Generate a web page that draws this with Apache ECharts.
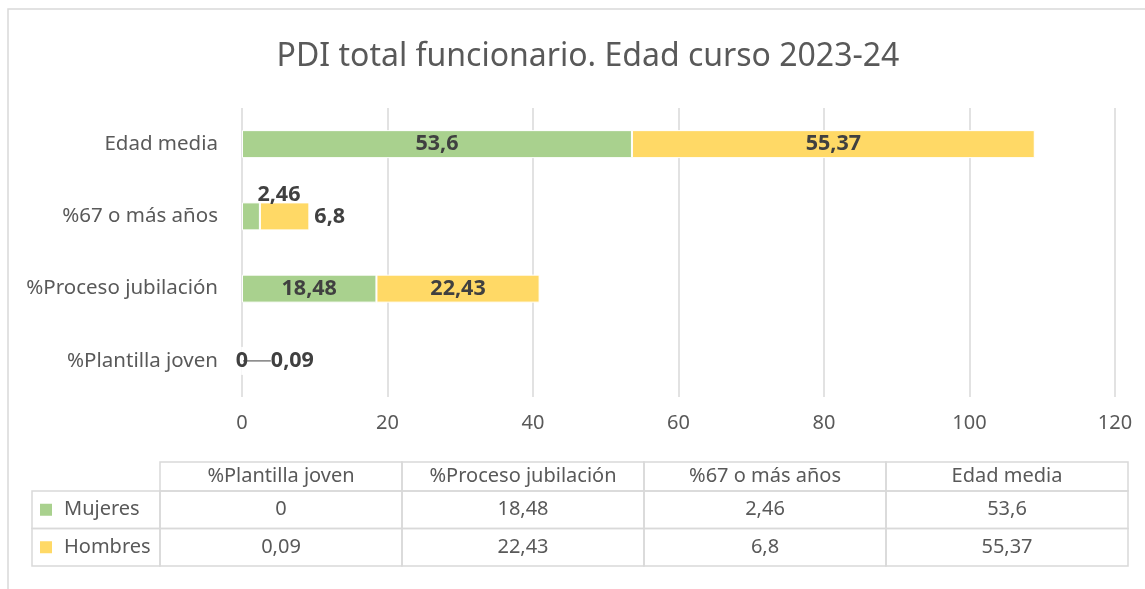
<!DOCTYPE html>
<html><head><meta charset="utf-8">
<script src="https://cdn.jsdelivr.net/npm/echarts@6/dist/echarts.min.js"></script>
<style>html,body{margin:0;padding:0;background:#fff}#c{width:1145px;height:589px}</style>
</head><body><div id="c"></div>
<script>
const categories = ['%Plantilla joven', '%Proceso jubilación', '%67 o más años', 'Edad media'];
const mujeres = [0, 18.48, 2.46, 53.6];
const hombres = [0.09, 22.43, 6.8, 55.37];
const xTicks = [0, 20, 40, 60, 80, 100, 120];
const seriesNames = ['Mujeres', 'Hombres'];
const colors = ['#A9D18E', '#FFD966'];
const fmt = v => String(v).replace('.', ',');

// label placement per category (style only)
const mujLabel = [
  {position: 'inside'},
  {position: 'inside'},
  {position: 'top', distance: -3, offset: [28, 0]},
  {position: 'inside'}
];
const homLabel = [
  {position: 'right', distance: 4},
  {position: 'inside'},
  {position: 'right', distance: 5},
  {position: 'inside'}
];
const homLine = [true, false, false, false];

const FONT = 'Noto Sans';
const labelBase = {show: true, fontFamily: FONT, fontSize: 21.5, fontWeight: 'bold', color: '#404040', formatter: p => fmt(p.value)};

function makeData(vals, lbls, lines) {
  return vals.map((v, i) => {
    const d = {value: v, label: Object.assign({}, labelBase, lbls[i])};
    if (lines) d.labelLine = {show: lines[i], lineStyle: {color: '#7f7f7f', width: 1.5}};
    return d;
  });
}

// table graphic built from the arrays
const tblLeft = 32, rowHeadW = 128, colW = 242, tTop = 462, hH = 29, rH = 37.5;
const border = '#d9d9d9', txt = '#595959';
const TFS = 20;
const g = [];
g.push({type: 'rect', shape: {x: 8, y: 9, width: 1160, height: 600}, style: {fill: 'none', stroke: border, lineWidth: 1.5}, silent: true});
categories.forEach((c, i) => {
  const x0 = tblLeft + rowHeadW + i * colW;
  g.push({type: 'rect', shape: {x: x0, y: tTop, width: colW, height: hH}, style: {fill: 'none', stroke: border, lineWidth: 1.5}});
  g.push({type: 'text', x: x0 + colW / 2, y: tTop + hH / 2, style: {text: c, fontFamily: FONT, fontSize: TFS, fill: txt, align: 'center', verticalAlign: 'middle'}});
});
[mujeres, hombres].forEach((arr, r) => {
  const y0 = tTop + hH + r * rH;
  g.push({type: 'rect', shape: {x: tblLeft, y: y0, width: rowHeadW, height: rH}, style: {fill: 'none', stroke: border, lineWidth: 1.5}});
  g.push({type: 'rect', shape: {x: tblLeft + 8, y: y0 + rH / 2 - 6, width: 12, height: 12}, style: {fill: colors[r]}});
  g.push({type: 'text', x: tblLeft + 32, y: y0 + rH / 2, style: {text: seriesNames[r], fontFamily: FONT, fontSize: TFS, fill: txt, align: 'left', verticalAlign: 'middle'}});
  arr.forEach((v, i) => {
    const x0 = tblLeft + rowHeadW + i * colW;
    g.push({type: 'rect', shape: {x: x0, y: y0, width: colW, height: rH}, style: {fill: 'none', stroke: border, lineWidth: 1.5}});
    g.push({type: 'text', x: x0 + colW / 2, y: y0 + rH / 2, style: {text: fmt(v), fontFamily: FONT, fontSize: TFS, fill: txt, align: 'center', verticalAlign: 'middle'}});
  });
});

const chart = echarts.init(document.getElementById('c'));
chart.setOption({
  animation: false,
  backgroundColor: '#fff',
  title: {text: 'PDI total funcionario. Edad curso 2023-24', left: 583, textAlign: 'center', top: 36,
    textStyle: {fontFamily: FONT, fontSize: 32, fontWeight: 'normal', color: '#595959'}},
  grid: {left: 242, right: 30, top: 108, bottom: 192, containLabel: false},
  xAxis: {type: 'value', min: xTicks[0], max: xTicks[xTicks.length - 1], interval: 20,
    axisLine: {show: false}, axisTick: {show: false},
    splitLine: {lineStyle: {color: '#d9d9d9', width: 1.5}},
    axisLabel: {fontFamily: FONT, fontSize: 20, color: txt, margin: 16}},
  yAxis: {type: 'category', data: categories,
    axisLine: {show: false}, axisTick: {show: false},
    axisLabel: {fontFamily: FONT, fontSize: 20.5, color: txt, margin: 24}},
  graphic: g,
  series: [
    {name: seriesNames[0], type: 'bar', stack: 's', barWidth: 28, data: makeData(mujeres, mujLabel),
      itemStyle: {color: colors[0], borderColor: '#fff', borderWidth: 1}},
    {name: seriesNames[1], type: 'bar', stack: 's', barWidth: 28, data: makeData(hombres, homLabel, homLine),
      itemStyle: {color: colors[1], borderColor: '#fff', borderWidth: 1},
      labelLayout: p => p.dataIndex === 0 ? {dx: 24} : {}}
  ]
});
</script></body></html>
